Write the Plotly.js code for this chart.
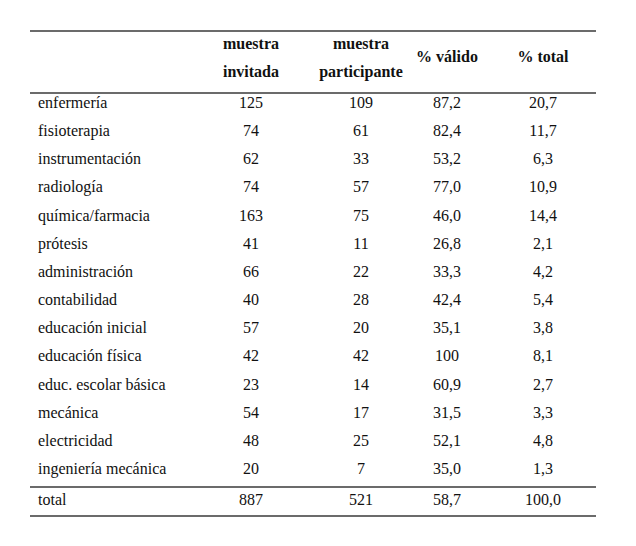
<!DOCTYPE html>
<html><head><meta charset="utf-8">
<script src="https://cdn.plot.ly/plotly-3.0.1.min.js"></script>
<style>html,body{margin:0;padding:0;background:#fff}</style>
</head><body><div id="chart" style="width:636px;height:546px"></div>
<script>
// ---- data ----
const headers = ["", "muestra<br>invitada", "muestra<br>participante", "% válido", "% total"];
const carreras = ["enfermería","fisioterapia","instrumentación","radiología","química/farmacia","prótesis","administración","contabilidad","educación inicial","educación física","educ. escolar básica","mecánica","electricidad","ingeniería mecánica"];
const invitada = [125,74,62,74,163,41,66,40,57,42,23,54,48,20];
const participante = [109,61,33,57,75,11,22,28,20,42,14,17,25,7];
const valido = ["87,2","82,4","53,2","77,0","46,0","26,8","33,3","42,4","35,1","100","60,9","31,5","52,1","35,0"];
const pctTotal = ["20,7","11,7","6,3","10,9","14,4","2,1","4,2","5,4","3,8","8,1","2,7","3,3","4,8","1,3"];
const totalRow = ["total", "887", "521", "58,7", "100,0"];

// ---- layout helpers ----
const colX = [38, 251, 361, 447, 543];   // label left edge, then column centres (x axis units = px)
const rowH = 28.15, firstRow = 104;      // y axis in row units
const pxToRow = p => (p - firstRow) / rowH;
const FONT = "Liberation Serif, Times New Roman, serif";
const FS = 16;
const txtColor = "#111111";

const traces = [];
const rowIdx = carreras.map((_, i) => i);

// label column
traces.push({type:"scatter", mode:"text", x: rowIdx.map(() => colX[0]), y: rowIdx,
  text: carreras, textposition:"middle right", hoverinfo:"skip",
  textfont:{family:FONT, size:FS, color:txtColor}});
// numeric columns
[invitada, participante, valido, pctTotal].forEach((col, c) => {
  traces.push({type:"scatter", mode:"text", x: rowIdx.map(() => colX[c+1]), y: rowIdx,
    text: col.map(String), textposition:"middle center", hoverinfo:"skip",
    textfont:{family:FONT, size:FS, color:txtColor}});
});
// total row
const totalY = pxToRow(501);
traces.push({type:"scatter", mode:"text", x:[colX[0]], y:[totalY], text:[totalRow[0]],
  textposition:"middle right", hoverinfo:"skip", textfont:{family:FONT, size:FS, color:txtColor}});
traces.push({type:"scatter", mode:"text", x: colX.slice(1), y: colX.slice(1).map(() => totalY),
  text: totalRow.slice(1), textposition:"middle center", hoverinfo:"skip",
  textfont:{family:FONT, size:FS, color:txtColor}});
// headers
const hx = [], hy = [], ht = [];
headers.forEach((h, c) => {
  if (!h) return;
  const parts = h.split("<br>");
  if (parts.length === 2) {
    hx.push(colX[c], colX[c]); hy.push(pxToRow(45), pxToRow(73)); ht.push(parts[0], parts[1]);
  } else {
    hx.push(colX[c]); hy.push(pxToRow(58)); ht.push(parts[0]);
  }
});
traces.push({type:"scatter", mode:"text", x:hx, y:hy, text:ht.map(t => "<b>"+t+"</b>"),
  textposition:"middle center", hoverinfo:"skip",
  textfont:{family:FONT, size:FS, color:txtColor}});

const lineY = [31, 93, 487, 516];
const shapes = lineY.map(p => ({type:"line", xref:"x", yref:"y", x0:30, x1:596,
  y0:pxToRow(p), y1:pxToRow(p), line:{color:"#3a3a3a", width:1.6}}));

const layout = {
  width:636, height:546, margin:{l:0,r:0,t:0,b:0},
  paper_bgcolor:"#fff", plot_bgcolor:"#fff", showlegend:false,
  xaxis:{range:[0,636], visible:false, fixedrange:true},
  yaxis:{range:[pxToRow(546), pxToRow(0)], visible:false, fixedrange:true},
  shapes: shapes
};
Plotly.newPlot("chart", traces, layout, {staticPlot:true, displayModeBar:false});
</script></body></html>
